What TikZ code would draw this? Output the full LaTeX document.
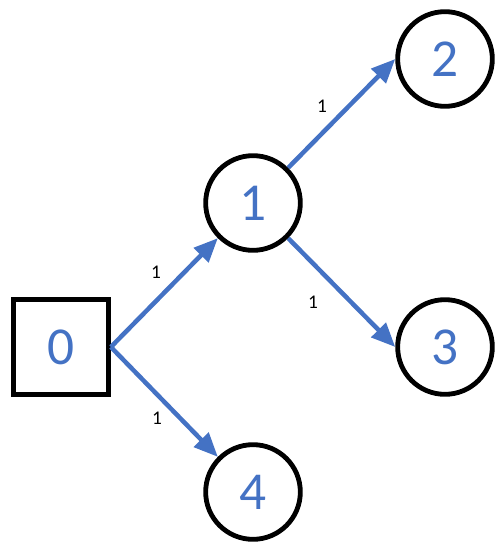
\documentclass[tikz,border=0pt]{standalone}
\usepackage{fontspec}
\setmainfont{Carlito}
\usetikzlibrary{arrows.meta}
\definecolor{edgeblue}{HTML}{4472C4}
\begin{document}
\begin{tikzpicture}[x=0.75pt,y=-0.75pt,
  vertex/.style={circle,draw=black,line width=3.6pt,minimum size=71pt,inner sep=0pt,
    text=edgeblue,font=\fontsize{40}{44}\selectfont},
  rootbox/.style={rectangle,draw=black,line width=3.8pt,minimum size=71pt,inner sep=0pt,
    text=edgeblue,font=\fontsize{40}{44}\selectfont},
  link/.style={draw=edgeblue,line width=3.4pt,-{Triangle[length=18pt,width=15pt]}},
  wlabel/.style={font=\fontsize{14.5}{16}\selectfont,text=black,inner sep=0pt}]
\useasboundingbox (0,0) rectangle (503,550);
\node[rootbox] (n0) at (61,347) {0};
\node[vertex] (n1) at (253,203) {1};
\node[vertex] (n2) at (445,59) {2};
\node[vertex] (n3) at (445,347) {3};
\node[vertex] (n4) at (253,492) {4};
\draw[link] (n0.east) -- (n1.225);
\draw[link] (n0.east) -- (n4.135);
\draw[link] (n1.45) -- (n2.west);
\draw[link] (n1.-45) -- (n3.west);
\node[wlabel] (l01) at (156,272) {1};
\node[wlabel] (l04) at (157,418) {1};
\node[wlabel] (l12) at (322,106) {1};
\node[wlabel] (l13) at (313,302) {1};
\end{tikzpicture}
\end{document}
